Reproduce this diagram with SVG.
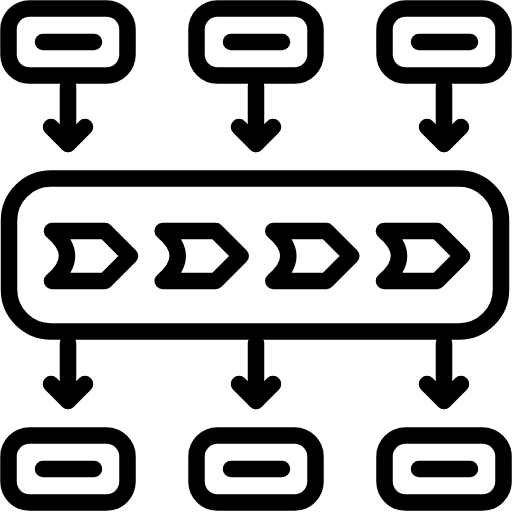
<svg xmlns="http://www.w3.org/2000/svg" width="512" height="512" viewBox="0 0 512 512">
<style>
.s{fill:none;stroke:#000;stroke-width:16.5;stroke-linecap:round;stroke-linejoin:round}
</style>
<defs>
<g id="box"><rect class="s" x="-59.5" y="-33.5" width="119" height="67" rx="21"/><line class="s" x1="-25" y1="0" x2="26" y2="0"/></g>
<path id="chev" class="s" d="M52,231 L105,231 L130,256 L105,281 L52,281 Q82,256 52,231 Z"/>
<g id="arr"><line class="s" x1="0" y1="0" x2="0" y2="58"/><polyline class="s" points="-17,41 0,58 17,41"/></g>
</defs>
<g id="in1"><use href="#box" x="68" y="42"/></g>
<g id="in2"><use href="#box" x="256" y="42"/></g>
<g id="in3"><use href="#box" x="444" y="42"/></g>
<g id="process">
<rect class="s" x="9" y="178.5" width="492" height="153" rx="42"/>
<use href="#chev" x="0"/>
<use href="#chev" x="110.7"/>
<use href="#chev" x="221.3"/>
<use href="#chev" x="332"/>
</g>
<g id="out1"><use href="#box" x="68" y="469"/></g>
<g id="out2"><use href="#box" x="256" y="469"/></g>
<g id="out3"><use href="#box" x="444" y="469"/></g>
<g id="connectors">
<use href="#arr" x="68" y="86"/>
<use href="#arr" x="256" y="86"/>
<use href="#arr" x="444" y="86"/>
<use href="#arr" x="68" y="343"/>
<use href="#arr" x="256" y="343"/>
<use href="#arr" x="444" y="343"/>
</g>
</svg>
